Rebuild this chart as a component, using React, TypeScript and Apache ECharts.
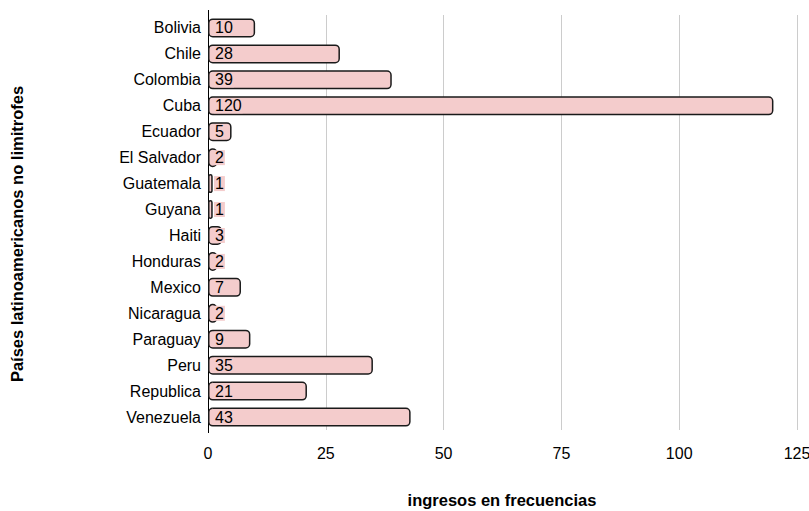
import React, { useEffect, useRef } from "react";
import * as echarts from "echarts";

const categories = ["Bolivia", "Chile", "Colombia", "Cuba", "Ecuador", "El Salvador", "Guatemala", "Guyana", "Haiti", "Honduras", "Mexico", "Nicaragua", "Paraguay", "Peru", "Republica", "Venezuela"];
const values = [10, 28, 39, 120, 5, 2, 1, 1, 3, 2, 7, 2, 9, 35, 21, 43];
const xTitle = "ingresos en frecuencias";
const yTitle = "Países latinoamericanos no limitrofes";

const FONT = "'Liberation Sans', Arial, sans-serif";

export default function App() {
  const ref = useRef<HTMLDivElement>(null);
  useEffect(() => {
    const chart = echarts.init(ref.current!, undefined, { renderer: "svg" });
    chart.setOption({
      animation: false,
      grid: { left: 208, right: 12, top: 15, bottom: 81, containLabel: false, outerBoundsMode: "none" },
      xAxis: {
        type: "value",
        min: 0,
        max: 125,
        interval: 25,
        axisLine: { show: false },
        axisTick: { show: false },
        axisLabel: { color: "#000", fontSize: 16, fontFamily: FONT, margin: 15 },
        splitLine: { show: true, lineStyle: { color: "#cccccc", width: 1 } },
      },
      yAxis: {
        type: "category",
        data: categories,
        inverse: true,
        axisLine: { show: true, lineStyle: { color: "#000", width: 1 } },
        axisTick: { show: false },
        axisLabel: { color: "#000", fontSize: 16, fontFamily: FONT, margin: 7 },
        splitLine: { show: false },
      },
      graphic: [
        {
          type: "line",
          shape: { x1: 208.5, y1: 10, x2: 208.5, y2: 433 },
          style: { stroke: "#000", lineWidth: 1 },
          z: 0,
        },
        {
          type: "text",
          x: 502,
          y: 500,
          style: { text: xTitle, fill: "#000", font: `bold 16.5px ${FONT}`, textAlign: "center", textVerticalAlign: "middle" },
        },
        {
          type: "text",
          x: 17,
          y: 234,
          rotation: Math.PI / 2,
          style: { text: yTitle, fill: "#000", font: `bold 16.5px ${FONT}`, textAlign: "center", textVerticalAlign: "middle" },
        },
      ],
      series: [
        {
          type: "bar",
          data: values,
          barWidth: 19,
          itemStyle: { color: "#f4cccc", borderColor: "#1a1a1a", borderWidth: 1.5, borderRadius: 4 },
          label: {
            show: true,
            position: "insideLeft",
            distance: 6,
            color: "#000",
            fontSize: 16,
            lineHeight: 15,
            fontFamily: FONT,
            backgroundColor: "#f4cccc",
            padding: [0, 1, 0, 1],
          },
        },
      ],
    });
    return () => chart.dispose();
  }, []);
  return <div ref={ref} style={{ width: 809, height: 511, position: "absolute", left: 0, top: 0 }} />;
}
